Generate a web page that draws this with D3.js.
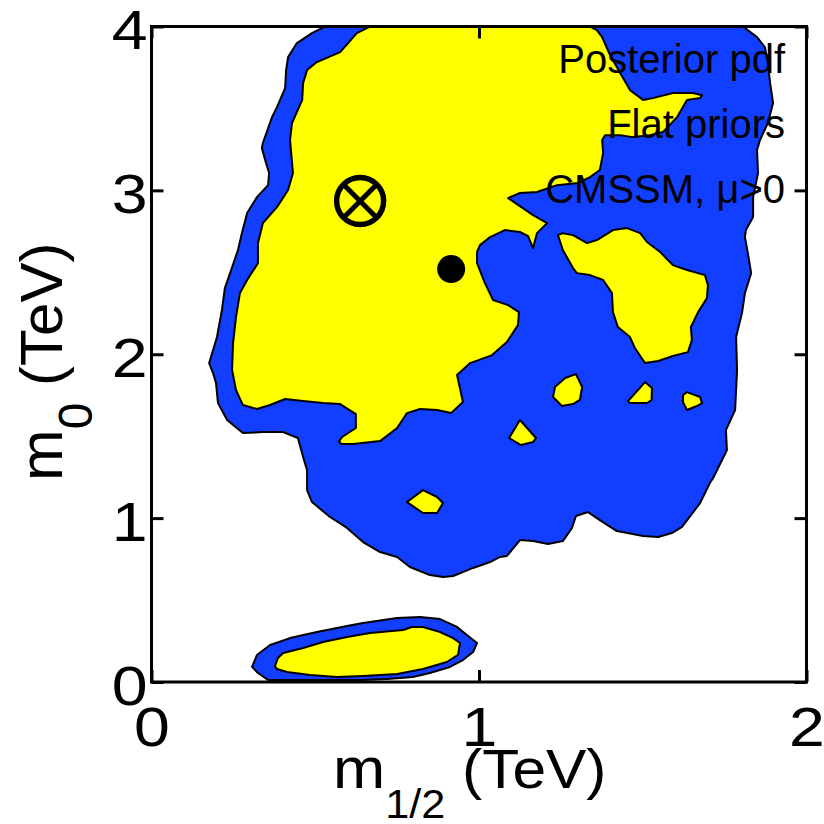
<!DOCTYPE html>
<html>
<head>
<meta charset="utf-8">
<script src="https://cdn.jsdelivr.net/npm/d3@7/dist/d3.min.js"></script>
<style>
  html, body { margin: 0; padding: 0; background: #fff; }
  svg { display: block; }
  text { font-family: "Liberation Sans", Arial, Helvetica, sans-serif; fill: #000; }
</style>
</head>
<body>
<svg id="chart" width="824" height="824"></svg>
<script>
// Axis ranges and ticks (TeV)
const m12Domain = [0, 2];
const m0Domain = [0, 4];
const m12Ticks = [0, 1, 2];
const m0Ticks = [0, 1, 2, 3, 4];

// Outer (95%) credible region, main lobe: [m1/2, m0] in TeV
const blueMain = [
  [1.806, 4.0], [1.849, 3.935], [1.873, 3.874], [1.882, 3.777], [1.889, 3.655], [1.898, 3.533],
  [1.882, 3.411], [1.858, 3.307], [1.849, 3.246], [1.852, 3.106], [1.837, 2.959], [1.837, 2.837],
  [1.815, 2.758], [1.812, 2.715], [1.821, 2.617], [1.831, 2.495], [1.812, 2.373], [1.803, 2.251],
  [1.785, 2.105], [1.788, 1.904], [1.782, 1.660], [1.754, 1.538], [1.757, 1.415], [1.715, 1.245],
  [1.705, 1.214], [1.675, 1.092], [1.620, 0.946], [1.589, 0.909], [1.547, 0.885], [1.501, 0.891],
  [1.421, 0.921], [1.369, 0.988], [1.333, 1.037], [1.296, 1.013], [1.284, 0.940], [1.256, 0.860],
  [1.211, 0.842], [1.165, 0.860], [1.125, 0.866], [1.085, 0.769], [1.064, 0.763], [1.034, 0.732],
  [0.982, 0.696], [0.921, 0.647], [0.890, 0.641], [0.850, 0.653], [0.789, 0.702], [0.750, 0.763],
  [0.698, 0.793], [0.646, 0.854], [0.597, 0.940], [0.545, 1.007], [0.490, 1.098], [0.475, 1.171],
  [0.475, 1.293], [0.463, 1.373], [0.447, 1.489], [0.402, 1.525], [0.340, 1.525], [0.279, 1.519],
  [0.231, 1.599], [0.203, 1.702], [0.197, 1.824], [0.188, 1.885], [0.176, 1.946], [0.188, 2.026],
  [0.200, 2.105], [0.215, 2.270], [0.224, 2.404], [0.240, 2.495], [0.264, 2.636], [0.276, 2.739],
  [0.292, 2.862], [0.322, 2.959], [0.356, 3.032], [0.359, 3.106], [0.347, 3.185], [0.337, 3.258],
  [0.340, 3.289], [0.368, 3.447], [0.383, 3.508], [0.408, 3.624], [0.411, 3.734], [0.417, 3.813],
  [0.444, 3.899], [0.490, 3.960], [0.530, 4.0]
];

// Outer (95%) region, low-m0 lobe
const blueLow = [
  [0.307, 0.092], [0.322, 0.165], [0.362, 0.226], [0.423, 0.268], [0.505, 0.305], [0.597, 0.342],
  [0.646, 0.360], [0.750, 0.390], [0.820, 0.397], [0.881, 0.384], [0.933, 0.336], [0.963, 0.287],
  [0.994, 0.238], [0.982, 0.183], [0.951, 0.134], [0.911, 0.092], [0.850, 0.055], [0.798, 0.031],
  [0.719, 0.018], [0.646, 0.012], [0.545, 0.012], [0.356, 0.012], [0.325, 0.055]
];

// Inner (68%) credible region, main lobe
const yellowMain = [
  [0.667, 4.0], [0.627, 3.960], [0.576, 3.844], [0.505, 3.783], [0.475, 3.734], [0.463, 3.655],
  [0.460, 3.551], [0.429, 3.411], [0.423, 3.307], [0.432, 3.106], [0.417, 3.002], [0.383, 2.898],
  [0.340, 2.800], [0.325, 2.678], [0.325, 2.556], [0.292, 2.453], [0.270, 2.373], [0.258, 2.227],
  [0.249, 2.068], [0.246, 1.904], [0.258, 1.782], [0.279, 1.690], [0.322, 1.666], [0.362, 1.690],
  [0.408, 1.727], [0.463, 1.714], [0.524, 1.702], [0.576, 1.696], [0.624, 1.635], [0.624, 1.550],
  [0.582, 1.495], [0.573, 1.470], [0.579, 1.452], [0.615, 1.452], [0.698, 1.470], [0.750, 1.550],
  [0.780, 1.641], [0.820, 1.666], [0.872, 1.660], [0.915, 1.641], [0.951, 1.708], [0.933, 1.873],
  [0.973, 1.946], [1.040, 1.995], [1.085, 2.074], [1.119, 2.178], [1.122, 2.257], [1.089, 2.300],
  [1.043, 2.331], [1.018, 2.434], [0.994, 2.556], [0.994, 2.624], [1.003, 2.666], [1.034, 2.715],
  [1.079, 2.758], [1.125, 2.746], [1.150, 2.721], [1.165, 2.648], [1.177, 2.739], [1.208, 2.800],
  [1.165, 2.849], [1.089, 2.953], [1.125, 2.984], [1.177, 2.990], [1.238, 3.032], [1.302, 3.045],
  [1.339, 3.081], [1.369, 3.124], [1.379, 3.228], [1.376, 3.307], [1.385, 3.337], [1.431, 3.337],
  [1.470, 3.325], [1.522, 3.337], [1.562, 3.356], [1.605, 3.447], [1.635, 3.551], [1.675, 3.563],
  [1.681, 3.581], [1.653, 3.594], [1.592, 3.594], [1.531, 3.563], [1.501, 3.551], [1.461, 3.612],
  [1.431, 3.716], [1.400, 3.826], [1.376, 3.935], [1.360, 3.978], [1.339, 4.0]
];

// Inner region, eastern island
const yellowEast = [
  [1.241, 2.727], [1.256, 2.636], [1.287, 2.526], [1.299, 2.495], [1.339, 2.483], [1.379, 2.453],
  [1.406, 2.373], [1.409, 2.257], [1.424, 2.166], [1.461, 2.105], [1.476, 2.038], [1.507, 1.946],
  [1.547, 1.959], [1.592, 1.989], [1.638, 2.013], [1.650, 2.087], [1.647, 2.166], [1.669, 2.257],
  [1.696, 2.343], [1.699, 2.422], [1.690, 2.483], [1.635, 2.514], [1.592, 2.544], [1.553, 2.624],
  [1.513, 2.685], [1.492, 2.739], [1.452, 2.770], [1.409, 2.758], [1.360, 2.697], [1.330, 2.678],
  [1.287, 2.727], [1.256, 2.739]
];

// Inner region, small islands
const yellowSpeckA = [[1.226, 1.739], [1.232, 1.800], [1.263, 1.855], [1.296, 1.879], [1.315, 1.800], [1.308, 1.721], [1.287, 1.696], [1.253, 1.684]];
const yellowSpeckB = [[1.455, 1.714], [1.507, 1.830], [1.528, 1.794], [1.527, 1.721], [1.513, 1.702], [1.461, 1.702]];
const yellowSpeckC = [[1.623, 1.751], [1.635, 1.769], [1.675, 1.739], [1.681, 1.702], [1.665, 1.684], [1.635, 1.660], [1.623, 1.708]];
const yellowSpeckD = [[1.092, 1.489], [1.125, 1.599], [1.174, 1.489], [1.165, 1.464], [1.128, 1.446]];
const yellowSpeckE = [[0.780, 1.098], [0.829, 1.171], [0.872, 1.129], [0.890, 1.092], [0.872, 1.031], [0.829, 1.031]];

// Inner region, low-m0 lobe
const yellowLow = [
  [0.377, 0.098], [0.386, 0.146], [0.402, 0.177], [0.463, 0.207], [0.524, 0.244], [0.597, 0.275],
  [0.667, 0.299], [0.768, 0.317], [0.795, 0.336], [0.829, 0.336], [0.881, 0.305], [0.921, 0.268],
  [0.942, 0.238], [0.936, 0.165], [0.902, 0.122], [0.829, 0.079], [0.750, 0.049], [0.646, 0.037],
  [0.566, 0.031], [0.484, 0.043], [0.414, 0.061], [0.383, 0.079]
];

// Best-fit point and posterior mean
const bestFit = [0.637, 2.935];
const posteriorMean = [0.915, 2.520];

// Annotation lines
const notes = ["Posterior pdf", "Flat priors", "CMSSM, \u03bc>0"];

const blueRegions = [blueMain, blueLow];
const yellowRegions = [yellowMain, yellowEast, yellowSpeckA, yellowSpeckB, yellowSpeckC, yellowSpeckD, yellowSpeckE, yellowLow];

const svg = d3.select("#chart");
const frame = { left: 151.5, right: 806.5, top: 26.5, bottom: 682 };

const x = d3.scaleLinear().domain(m12Domain).range([frame.left, frame.right]);
const y = d3.scaleLinear().domain(m0Domain).range([frame.bottom, frame.top]);

svg.append("defs").append("clipPath").attr("id", "plotArea")
  .append("rect").attr("x", frame.left).attr("y", frame.top)
  .attr("width", frame.right - frame.left).attr("height", frame.bottom - frame.top);

const area = d3.line().x(d => x(d[0])).y(d => y(d[1])).curve(d3.curveLinearClosed);

const plot = svg.append("g").attr("clip-path", "url(#plotArea)");

plot.selectAll("path.outer").data(blueRegions).join("path")
  .attr("class", "outer")
  .attr("d", area)
  .attr("fill", "#113eff")
  .attr("stroke", "#000")
  .attr("stroke-width", 2)
  .attr("stroke-linejoin", "round");

plot.selectAll("path.inner").data(yellowRegions).join("path")
  .attr("class", "inner")
  .attr("d", area)
  .attr("fill", "#ffff00")
  .attr("stroke", "#000")
  .attr("stroke-width", 2)
  .attr("stroke-linejoin", "round");

// Best fit: circled cross
const bf = plot.append("g").attr("transform", `translate(${x(bestFit[0])},${y(bestFit[1])})`);
const r = 23.5;
bf.append("circle").attr("r", r).attr("fill", "none").attr("stroke", "#000").attr("stroke-width", 5.5);
const c = r / Math.SQRT2;
bf.append("line").attr("x1", -c).attr("y1", -c).attr("x2", c).attr("y2", c).attr("stroke", "#000").attr("stroke-width", 5);
bf.append("line").attr("x1", -c).attr("y1", c).attr("x2", c).attr("y2", -c).attr("stroke", "#000").attr("stroke-width", 5);

// Posterior mean: filled dot
plot.append("circle")
  .attr("cx", x(posteriorMean[0])).attr("cy", y(posteriorMean[1]))
  .attr("r", 14).attr("fill", "#000");

// Annotations, right-aligned in the upper right
svg.append("g").selectAll("text").data(notes).join("text")
  .attr("x", 785)
  .attr("y", (d, i) => 73 + i * 65)
  .attr("text-anchor", "end")
  .attr("font-size", 40)
  .text(d => d);

// Frame
svg.append("rect")
  .attr("x", frame.left).attr("y", frame.top)
  .attr("width", frame.right - frame.left).attr("height", frame.bottom - frame.top)
  .attr("fill", "none").attr("stroke", "#000").attr("stroke-width", 3);

function styleTicks(g) {
  g.select(".domain").remove();
  g.selectAll(".tick line").attr("stroke", "#000").attr("stroke-width", 3);
}

// Bottom axis with labels
const gx = svg.append("g").attr("transform", `translate(0,${frame.bottom})`)
  .call(d3.axisBottom(x).tickValues(m12Ticks).tickSizeInner(-12).tickSizeOuter(0).tickFormat(d3.format("d")));
styleTicks(gx);
gx.selectAll(".tick text")
  .attr("x", null).attr("y", null).attr("dy", null)
  .attr("font-family", null)
  .attr("font-size", 56)
  .attr("text-anchor", "middle")
  .attr("transform", "translate(0,64) scale(1.15,1)");

// Left axis with labels
const gy = svg.append("g").attr("transform", `translate(${frame.left},0)`)
  .call(d3.axisLeft(y).tickValues(m0Ticks).tickSizeInner(-12).tickSizeOuter(0).tickFormat(d3.format("d")));
styleTicks(gy);
gy.selectAll(".tick text")
  .attr("x", null).attr("y", null).attr("dy", null)
  .attr("font-family", null)
  .attr("font-size", 56)
  .attr("text-anchor", "end")
  .attr("transform", "translate(-4,22) scale(1.15,1)");

// Top and right ticks, no labels
const gt = svg.append("g").attr("transform", `translate(0,${frame.top})`)
  .call(d3.axisTop(x).tickValues(m12Ticks).tickSizeInner(-12).tickSizeOuter(0).tickFormat(""));
styleTicks(gt);
const gr = svg.append("g").attr("transform", `translate(${frame.right},0)`)
  .call(d3.axisRight(y).tickValues(m0Ticks).tickSizeInner(-12).tickSizeOuter(0).tickFormat(""));
styleTicks(gr);

// Axis titles
const xt = svg.append("text").attr("transform", "translate(333,788) scale(1.08,1)");
xt.append("tspan").attr("font-size", 58).text("m");
xt.append("tspan").attr("font-size", 40).attr("dy", 30).text("1/2");
xt.append("tspan").attr("font-size", 56).attr("dy", -30).text(" (TeV)");

const yt = svg.append("text").attr("transform", "translate(62,481) rotate(-90)");
yt.append("tspan").attr("font-size", 62).text("m");
yt.append("tspan").attr("font-size", 48).attr("dy", 30).text("0");
yt.append("tspan").attr("font-size", 60).attr("dy", -30).text(" (TeV)");
</script>
</body>
</html>
